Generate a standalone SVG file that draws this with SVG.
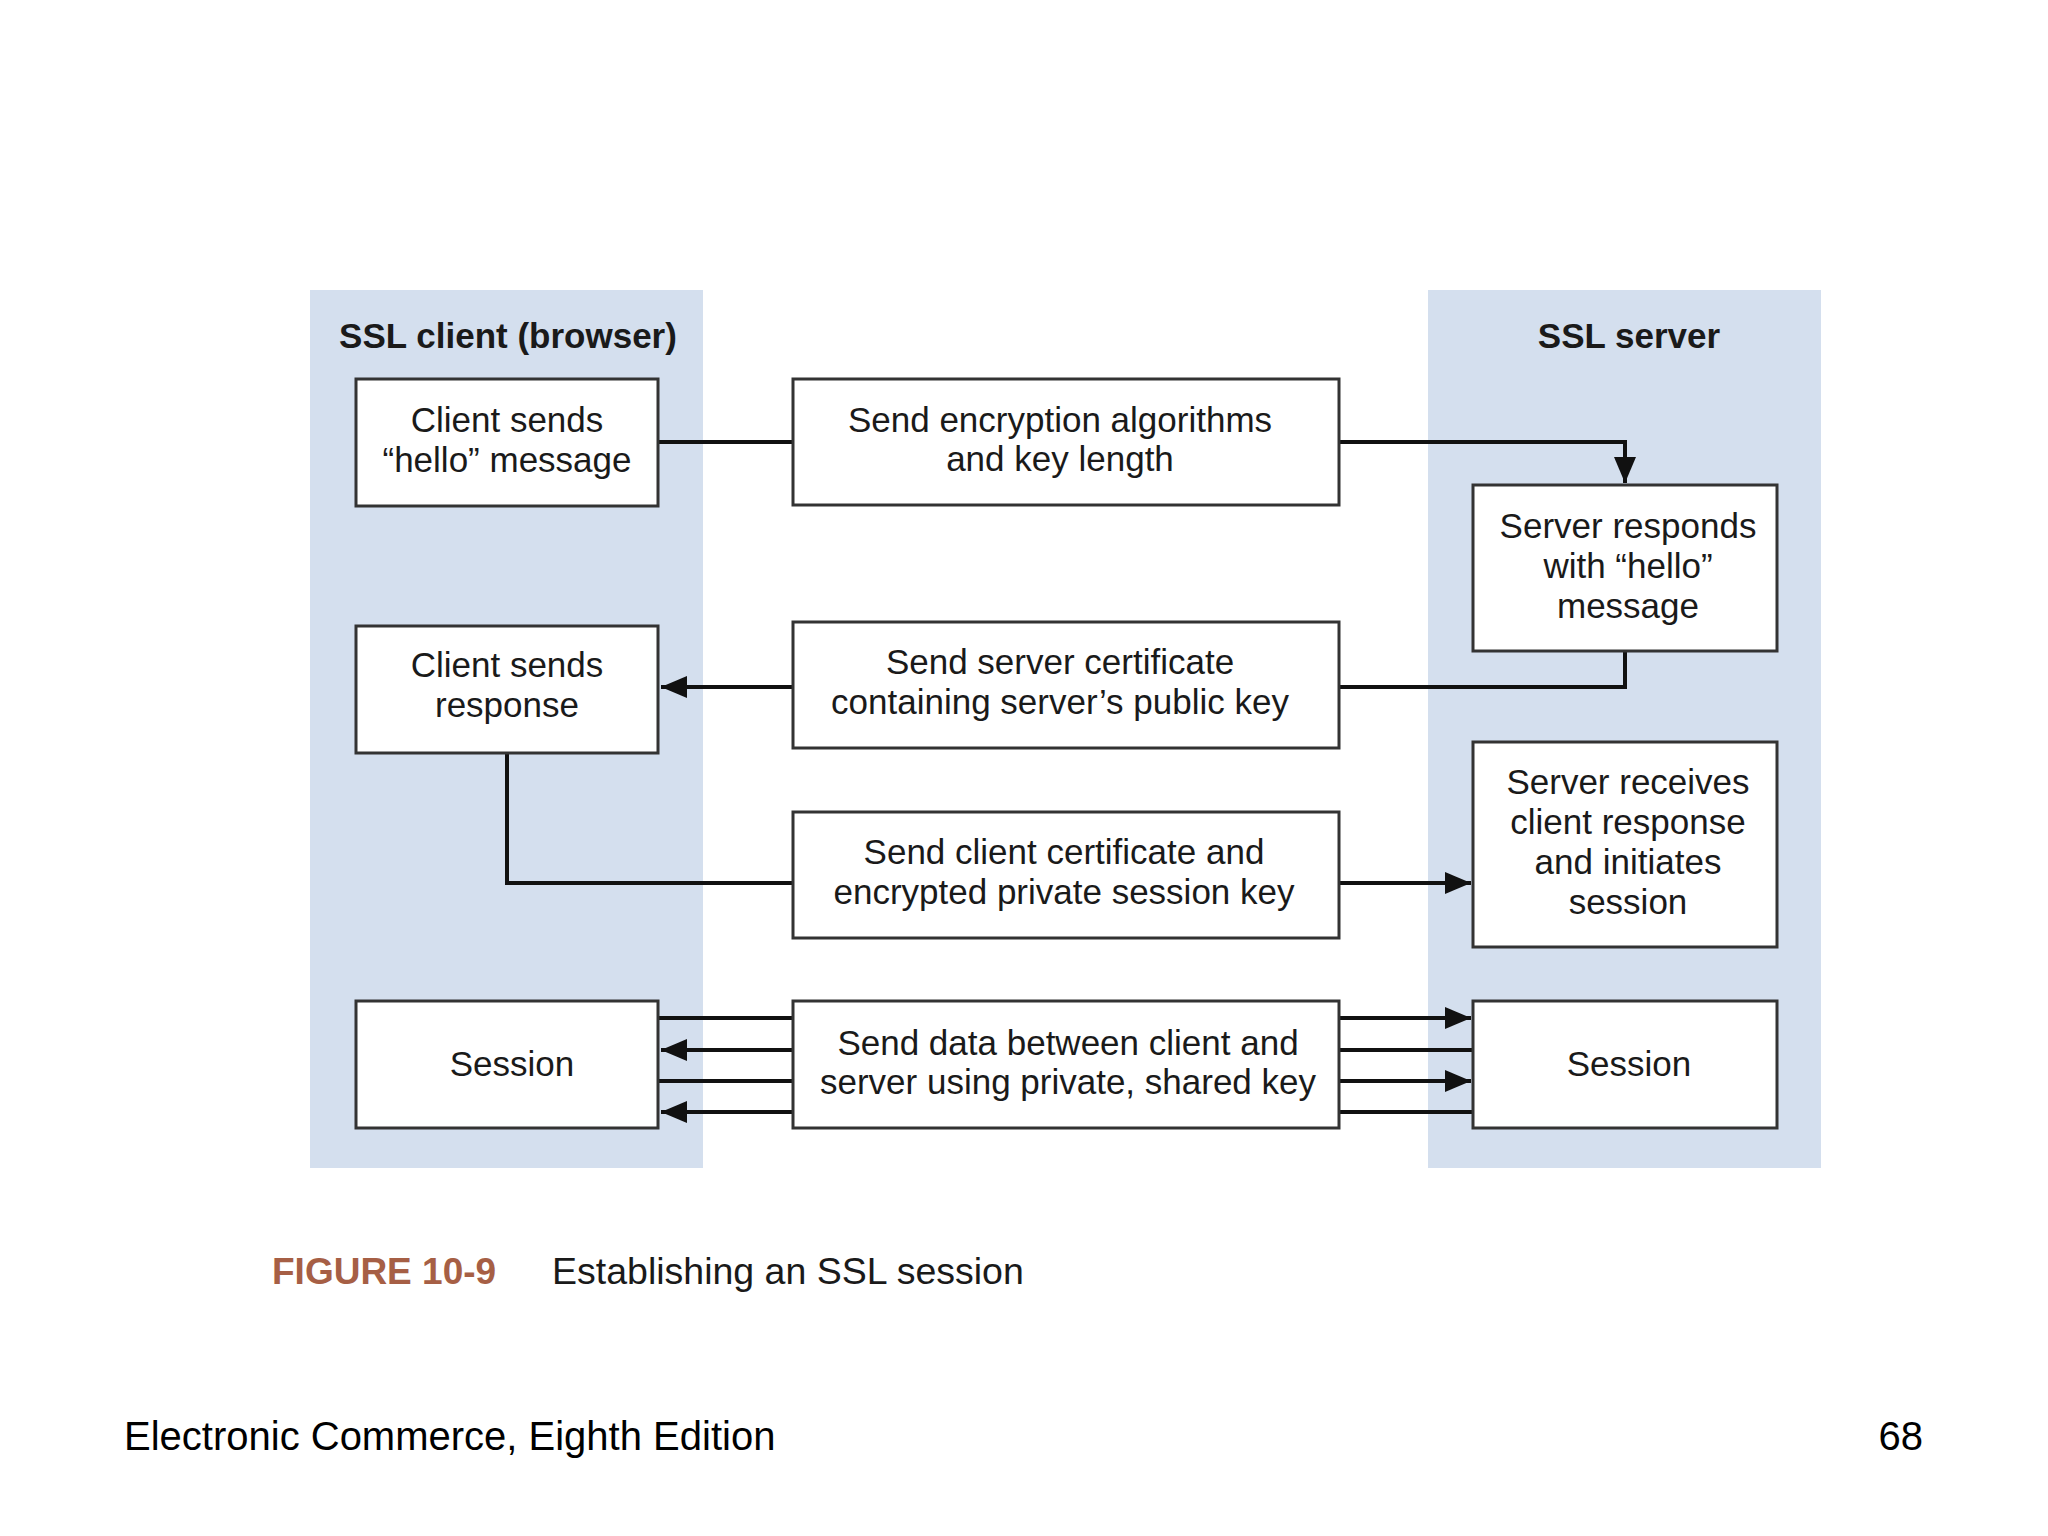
<svg xmlns="http://www.w3.org/2000/svg" width="2048" height="1536" viewBox="0 0 2048 1536">
<style>
.panel{fill:#d4dfee;stroke:none}
.box{fill:#ffffff;stroke:#333333;stroke-width:3}
.t{font-family:"Liberation Sans",Arial,sans-serif;font-size:35px;fill:#1a1a1a;text-anchor:middle}
.h{font-family:"Liberation Sans",Arial,sans-serif;font-size:35px;font-weight:bold;fill:#1a1a1a;text-anchor:middle}
.c{fill:none;stroke:#111111;stroke-width:4}
.cap{font-family:"Liberation Sans",Arial,sans-serif;font-size:37.5px;fill:#1a1a1a}
.fig{font-family:"Liberation Sans",Arial,sans-serif;font-size:37px;font-weight:bold;fill:#a65f45}
.foot{font-family:"Liberation Sans",Arial,sans-serif;font-size:40px;fill:#000000}
</style>
<defs>
<marker id="arr" markerUnits="userSpaceOnUse" markerWidth="26" markerHeight="22" refX="26" refY="11" orient="auto">
<path d="M0,0 L26,11 L0,22 z" fill="#111111"/>
</marker>
</defs>
<rect width="2048" height="1536" fill="#ffffff"/>
<g id="client-panel">
<rect class="panel" x="310" y="290" width="393" height="878"/>
<text class="h" x="508" y="348">SSL client (browser)</text>
</g>
<g id="server-panel">
<rect class="panel" x="1428" y="290" width="393" height="878"/>
<text class="h" x="1629" y="348">SSL server</text>
</g>
<g id="connectors">
<path class="c" d="M658,442 H793"/>
<path class="c" d="M1339,442 H1625 V483" marker-end="url(#arr)"/>
<path class="c" d="M1625,651 V687 H1339"/>
<path class="c" d="M793,687 H661" marker-end="url(#arr)"/>
<path class="c" d="M507,753 V883 H793"/>
<path class="c" d="M1339,883 H1471" marker-end="url(#arr)"/>
<path class="c" d="M658,1018 H793"/>
<path class="c" d="M793,1050 H661" marker-end="url(#arr)"/>
<path class="c" d="M658,1081 H793"/>
<path class="c" d="M793,1112 H661" marker-end="url(#arr)"/>
<path class="c" d="M1339,1018 H1471" marker-end="url(#arr)"/>
<path class="c" d="M1339,1050 H1473"/>
<path class="c" d="M1339,1081 H1471" marker-end="url(#arr)"/>
<path class="c" d="M1339,1112 H1473"/>
</g>
<g id="client-hello">
<rect class="box" x="356" y="379" width="302" height="127"/>
<text class="t" x="507" y="432">Client sends</text>
<text class="t" x="507" y="472">“hello” message</text>
</g>
<g id="send-encryption">
<rect class="box" x="793" y="379" width="546" height="126"/>
<text class="t" x="1060" y="432">Send encryption algorithms</text>
<text class="t" x="1060" y="471">and key length</text>
</g>
<g id="server-hello">
<rect class="box" x="1473" y="485" width="304" height="166"/>
<text class="t" x="1628" y="538">Server responds</text>
<text class="t" x="1628" y="578">with “hello”</text>
<text class="t" x="1628" y="618">message</text>
</g>
<g id="client-response">
<rect class="box" x="356" y="626" width="302" height="127"/>
<text class="t" x="507" y="677">Client sends</text>
<text class="t" x="507" y="717">response</text>
</g>
<g id="send-server-cert">
<rect class="box" x="793" y="622" width="546" height="126"/>
<text class="t" x="1060" y="674">Send server certificate</text>
<text class="t" x="1060" y="714">containing server’s public key</text>
</g>
<g id="send-client-cert">
<rect class="box" x="793" y="812" width="546" height="126"/>
<text class="t" x="1064" y="864">Send client certificate and</text>
<text class="t" x="1064" y="904">encrypted private session key</text>
</g>
<g id="server-receives">
<rect class="box" x="1473" y="742" width="304" height="205"/>
<text class="t" x="1628" y="794">Server receives</text>
<text class="t" x="1628" y="834">client response</text>
<text class="t" x="1628" y="874">and initiates</text>
<text class="t" x="1628" y="914">session</text>
</g>
<g id="client-session">
<rect class="box" x="356" y="1001" width="302" height="127"/>
<text class="t" x="512" y="1076">Session</text>
</g>
<g id="send-data">
<rect class="box" x="793" y="1001" width="546" height="127"/>
<text class="t" x="1068" y="1055">Send data between client and</text>
<text class="t" x="1068" y="1094">server using private, shared key</text>
</g>
<g id="server-session">
<rect class="box" x="1473" y="1001" width="304" height="127"/>
<text class="t" x="1629" y="1076">Session</text>
</g>
<g id="caption">
<text class="fig" x="272" y="1284">FIGURE 10-9</text>
<text class="cap" x="552" y="1284">Establishing an SSL session</text>
</g>
<g id="footer">
<text class="foot" x="124" y="1450">Electronic Commerce, Eighth Edition</text>
<text class="foot" x="1923" y="1450" text-anchor="end">68</text>
</g>
</svg>
